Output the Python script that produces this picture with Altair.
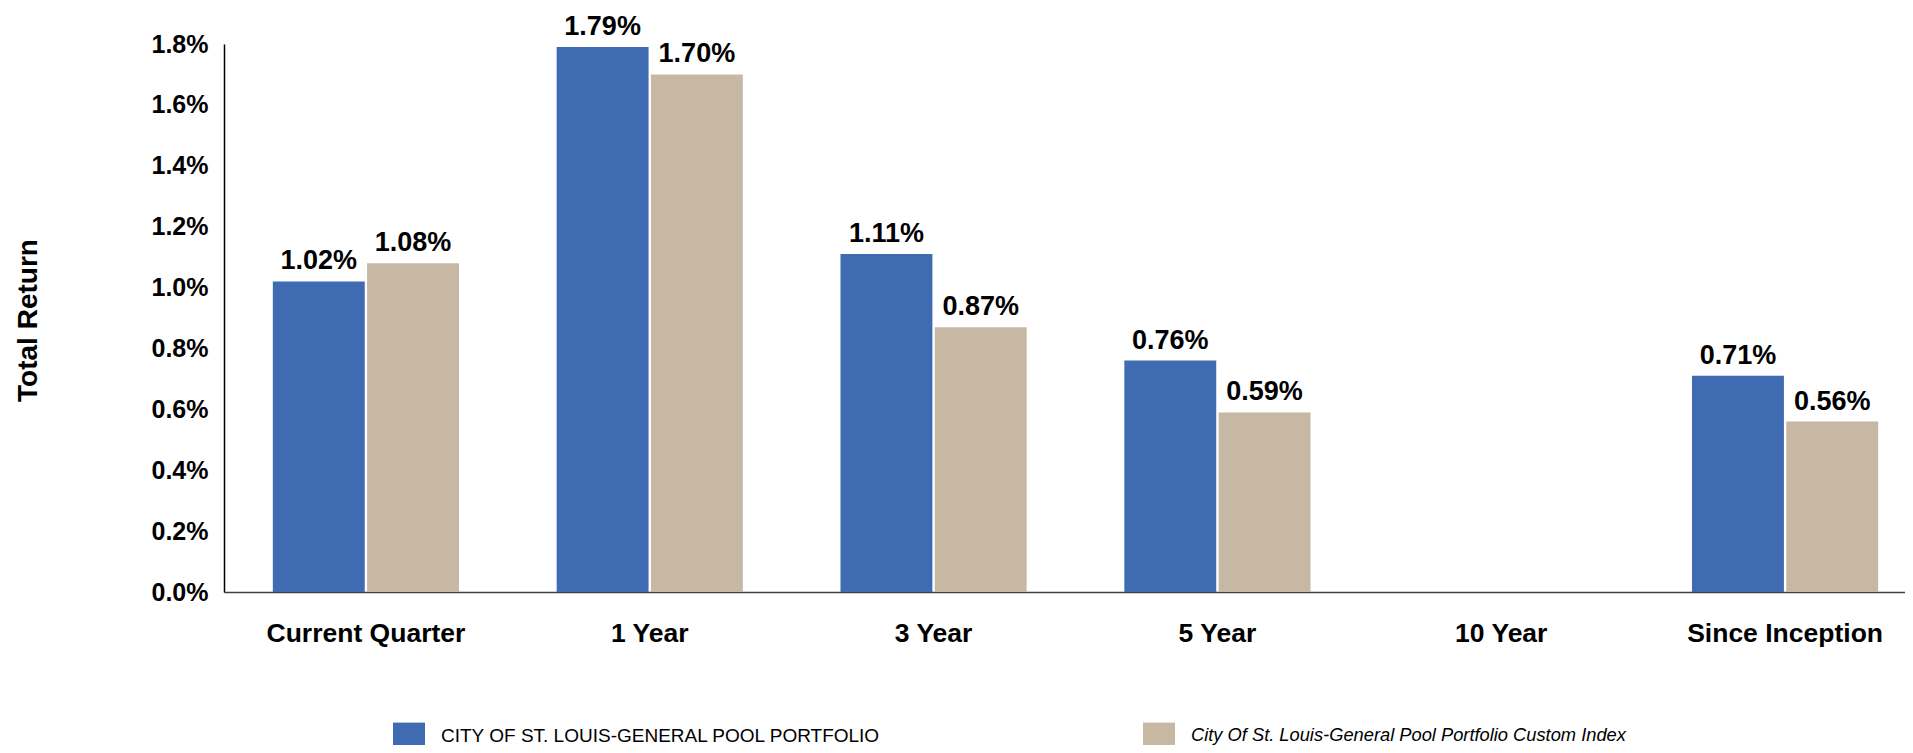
import altair as alt
import pandas as pd

categories = ["Current Quarter", "1 Year", "3 Year", "5 Year", "10 Year", "Since Inception"]
portfolio = [1.02, 1.79, 1.11, 0.76, None, 0.71]
custom_index = [1.08, 1.70, 0.87, 0.59, None, 0.56]
series_names = [
    "CITY OF ST. LOUIS-GENERAL POOL PORTFOLIO",
    "City Of St. Louis-General Pool Portfolio Custom Index",
]
colors = ["#3F6BB3", "#C7B8A4"]
y_ticks = [0.0, 0.2, 0.4, 0.6, 0.8, 1.0, 1.2, 1.4, 1.6, 1.8]

rows = []
for c, p, i in zip(categories, portfolio, custom_index):
    rows.append({"category": c, "series": series_names[0], "value": p})
    rows.append({"category": c, "series": series_names[1], "value": i})
df = pd.DataFrame(rows)

FONT = "Liberation Sans"
is_index = "datum.value == '" + series_names[1] + "'"

x_enc = alt.X(
    "category:N",
    scale=alt.Scale(domain=categories, range=[0, 1703], paddingInner=0.344, paddingOuter=0.172),
    axis=alt.Axis(
        title=None, labelAngle=0, labelFont=FONT, labelFontSize=26.5, labelFontWeight="bold",
        labelColor="#000000", labelPadding=28, ticks=False, tickSize=0,
        domainColor="#404040", domainWidth=1.5, labelLimit=0,
    ),
)
xoff_enc = alt.XOffset("series:N", scale=alt.Scale(domain=series_names, paddingInner=0.025))
y_enc = alt.Y(
    "value:Q",
    scale=alt.Scale(domain=[0, 1.8], nice=False, zero=True),
    axis=alt.Axis(
        values=y_ticks, labelExpr="format(datum.value, '.1f') + '%'",
        title="Total Return", titleFont=FONT, titleFontSize=28, titleFontWeight="bold",
        titleColor="#000000", titleX=-182, titleY=276, titleAngle=-90,
        titleAlign="center", titleBaseline="bottom",
        labelFont=FONT, labelFontSize=25, labelFontWeight="bold", labelColor="#000000",
        labelPadding=16, ticks=False, tickSize=0, grid=False,
        domainColor="#000000", domainWidth=1.5,
    ),
)
color_enc = alt.Color(
    "series:N",
    scale=alt.Scale(domain=series_names, range=colors),
    legend=alt.Legend(
        title=None, orient="none", legendX=169, legendY=676,
        direction="horizontal", columns=2, columnPadding=262,
        symbolType="M-1,-0.85H1V0.85H-1Z", symbolSize=1024, symbolStrokeWidth=0,
        symbolOpacity=1, labelFont=FONT, labelColor="#000000",
        labelFontSize={"expr": is_index + " ? 18.3 : 19"},
        labelLimit=0, labelOffset=16,
        labelFontStyle={"expr": is_index + " ? 'italic' : 'normal'"},
    ),
)

base = alt.Chart(df).transform_filter("isValid(datum.value)")

bars = base.mark_bar().encode(x=x_enc, xOffset=xoff_enc, y=y_enc, color=color_enc)
labels = base.transform_calculate(
    label="format(datum.value, '.2f') + '%'"
).mark_text(
    dy=-12, baseline="alphabetic", align="center", font=FONT, fontSize=27,
    fontWeight="bold", color="#000000",
).encode(x=x_enc, xOffset=xoff_enc, y=y_enc, text="label:N")

chart = alt.layer(bars, labels).properties(
    width=1681, height=548,
    autosize=alt.AutoSizeParams(type="none"),
    padding={"left": 216, "top": 36, "right": 0, "bottom": 153},
).configure_view(stroke=None)

chart.save("out.html", embed_options={"renderer": "svg", "actions": False})
